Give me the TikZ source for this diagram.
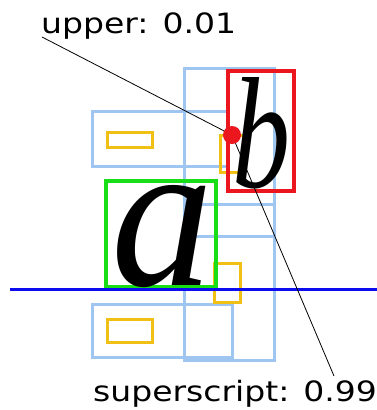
\documentclass[tikz,border=0pt]{standalone}
\usepackage{fontspec}
\usepackage{graphicx}
\setmainfont{Liberation Serif}
\newfontfamily\labelfont[FakeStretch=1.18]{DejaVu Sans}
\usetikzlibrary{positioning}
\definecolor{candblue}{RGB}{158,198,240}
\definecolor{candyel}{RGB}{240,192,20}
\definecolor{symred}{RGB}{236,22,30}
\definecolor{symgreen}{RGB}{24,222,24}
\definecolor{baseblue}{RGB}{12,12,238}
\tikzset{
  candbox/.style={draw=candblue, line width=3pt},
  hintbox/.style={draw=candyel, line width=3pt},
  redbox/.style={draw=symred, line width=3.2pt},
  greenbox/.style={draw=symgreen, line width=3.2pt},
  baseln/.style={draw=baseblue, line width=3pt},
  glyph/.style={inner sep=0pt, anchor=base west, font=\itshape},
  lbl/.style={inner sep=0pt, anchor=base west, font=\labelfont\fontsize{28}{32}\selectfont},
  pin/.style={draw=black, line width=0.8pt},
  hitdot/.style={circle, fill=symred, inner sep=0pt, minimum size=18pt}
}
\begin{document}
\begin{tikzpicture}[x=1pt, y=-1pt]
  \useasboundingbox (0,0) rectangle (377,410);
  % candidate regions
  \draw[candbox] (92,111) rectangle (228,166);
  \draw[candbox] (184,68) rectangle (274,360);
  \draw[candbox] (184,204) rectangle (274,236);
  \draw[candbox] (92,304) rectangle (232,357);
  % inner hints
  \draw[hintbox] (107,132) rectangle (152,147);
  \draw[hintbox] (107,319) rectangle (152,342);
  \draw[hintbox] (220,135) rectangle (243,172);
  \draw[hintbox] (214,263) rectangle (240,302);
  % symbols
  \draw[redbox] (228,71) rectangle (294,191);
  \draw[greenbox] (106,181) rectangle (216,287);
  \draw[baseln] (10,289) -- (377,289);
  \node[glyph] (bsym) at (232,187) {\resizebox{58pt}{110pt}{b}};
  \node[glyph] (asym) at (111,285) {\resizebox{102pt}{100pt}{a}};
  % labels
  \node[lbl] (upper) at (41,33) {upper: 0.01};
  \node[lbl] (sup) at (93,401) {superscript: 0.99};
  \coordinate (upperpin) at (42,37);
  \coordinate (suppin) at (334,376);
  \coordinate (hitpt) at (232,135);
  \draw[pin] (upperpin) -- (hitpt);
  \draw[pin] (hitpt) -- (suppin);
  \node[hitdot] (hit) at (hitpt) {};
\end{tikzpicture}
\end{document}
